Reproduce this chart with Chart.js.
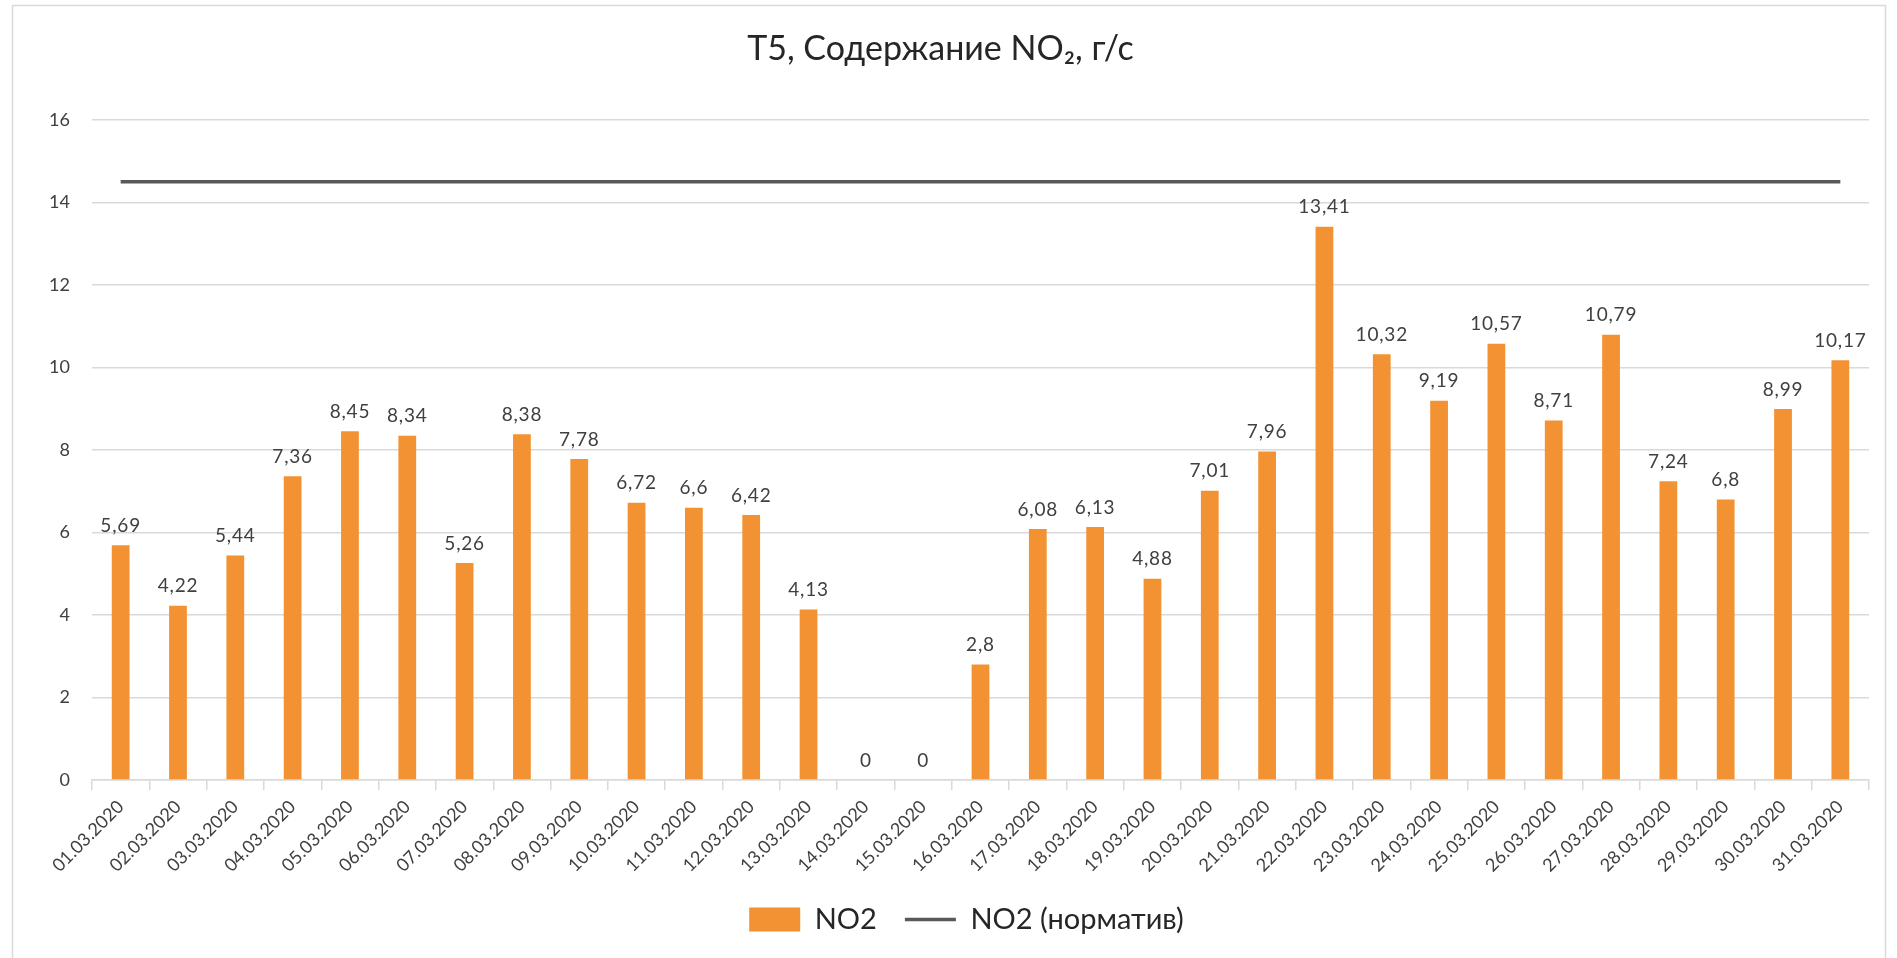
<!DOCTYPE html>
<html>
<head>
<meta charset="utf-8">
<script src="https://cdn.jsdelivr.net/npm/chart.js@4/dist/chart.umd.min.js"></script>
<style>
html,body{margin:0;padding:0;background:#fff;}
#wrap{width:1897px;height:958px;position:relative;}
</style>
</head>
<body>
<div id="wrap"><canvas id="c" width="1897" height="958"></canvas></div>
<script>
const categories = ["01.03.2020","02.03.2020","03.03.2020","04.03.2020","05.03.2020","06.03.2020","07.03.2020","08.03.2020","09.03.2020","10.03.2020","11.03.2020","12.03.2020","13.03.2020","14.03.2020","15.03.2020","16.03.2020","17.03.2020","18.03.2020","19.03.2020","20.03.2020","21.03.2020","22.03.2020","23.03.2020","24.03.2020","25.03.2020","26.03.2020","27.03.2020","28.03.2020","29.03.2020","30.03.2020","31.03.2020"];
const no2Values = [5.69,4.22,5.44,7.36,8.45,8.34,5.26,8.38,7.78,6.72,6.6,6.42,4.13,0,0,2.8,6.08,6.13,4.88,7.01,7.96,13.41,10.32,9.19,10.57,8.71,10.79,7.24,6.8,8.99,10.17];
const normValues = [14.5,14.5,14.5,14.5,14.5,14.5,14.5,14.5,14.5,14.5,14.5,14.5,14.5,14.5,14.5,14.5,14.5,14.5,14.5,14.5,14.5,14.5,14.5,14.5,14.5,14.5,14.5,14.5,14.5,14.5,14.5];
const yTicks = [0,2,4,6,8,10,12,14,16];
const titleText = "T5, Содержание NO\u2082, г/с";
const seriesNames = ["NO2","NO2 (норматив)"];

const FONT = "Lato, 'Open Sans', sans-serif";

const borderPlugin = {
  id: 'frame',
  beforeDraw(chart) {
    const ctx = chart.ctx;
    ctx.save();
    ctx.fillStyle = '#fff';
    ctx.fillRect(0,0,chart.width,chart.height);
    ctx.strokeStyle = '#d9d9d9';
    ctx.lineWidth = 1.5;
    ctx.strokeRect(12.5, 5.5, 1873, 960);
    ctx.restore();
  }
};

const legendShift = {
  id: 'legendShift',
  afterLayout(chart) {
    if (chart.legend) {
      chart.legend.left += 26;
      chart.legend.right += 26;
      if (chart.legend.adjustHitBoxes) chart.legend.adjustHitBoxes();
    }
  }
};

const labelPlugin = {
  id: 'barLabels',
  afterDatasetsDraw(chart) {
    const ctx = chart.ctx;
    const meta = chart.getDatasetMeta(0);
    const data = chart.data.datasets[0].data;
    ctx.save();
    ctx.font = "19px " + FONT;
    try { ctx.letterSpacing = '0.8px'; } catch (e) {}
    ctx.fillStyle = '#404040';
    ctx.textAlign = 'center';
    ctx.textBaseline = 'bottom';
    meta.data.forEach((el, i) => {
      const txt = String(data[i]).replace('.', ',');
      ctx.fillText(txt, el.x, el.y - 10);
    });
    ctx.restore();
  }
};

new Chart(document.getElementById('c'), {
  type: 'bar',
  data: {
    labels: categories,
    datasets: [
      {
        label: seriesNames[0],
        data: no2Values,
        backgroundColor: '#F39233',
        borderWidth: 0,
        barPercentage: 0.31,
        categoryPercentage: 1.0,
        pointStyle: 'rect'
      },
      {
        type: 'line',
        label: seriesNames[1],
        data: normValues,
        borderColor: '#595959',
        backgroundColor: '#595959',
        borderWidth: 3.5,
        pointRadius: 0,
        pointHoverRadius: 0,
        pointStyle: 'line',
        tension: 0
      }
    ]
  },
  options: {
    responsive: false,
    animation: false,
    devicePixelRatio: 1,
    layout: { padding: { left: 12, right: 28, top: 8, bottom: 14 } },
    plugins: {
      title: {
        display: true,
        text: titleText,
        color: '#262626',
        font: { family: FONT, size: 34, weight: 'normal' },
        padding: { top: 21, bottom: 50 }
      },
      legend: {
        position: 'bottom',
        labels: {
          usePointStyle: true,
          pointStyleWidth: 51,
          boxHeight: 24,
          color: '#262626',
          font: { family: FONT, size: 29 },
          padding: 28
        }
      },
      tooltip: { enabled: false }
    },
    scales: {
      x: {
        grid: { display: true, drawOnChartArea: false, offset: true, color: '#d9d9d9', tickLength: 10, lineWidth: 1.5 },
        border: { display: true, color: '#d9d9d9', width: 1.5 },
        ticks: {
          color: '#404040',
          font: { family: FONT, size: 18 },
          minRotation: 45,
          maxRotation: 45,
          padding: 6,
          autoSkip: false
        },
        afterFit(scale) { scale.height = 97; }
      },
      y: {
        min: 0,
        max: 16,
        afterBuildTicks(scale) { scale.ticks = yTicks.map(v => ({ value: v })); },
        grid: { color: '#d9d9d9', lineWidth: 1.5, drawTicks: false },
        border: { display: false },
        ticks: {
          color: '#404040',
          font: { family: FONT, size: 18 },
          padding: 22
        },
        afterFit(scale) { scale.width = 80; }
      }
    }
  },
  plugins: [borderPlugin, legendShift, labelPlugin]
});
</script>
</body>
</html>
